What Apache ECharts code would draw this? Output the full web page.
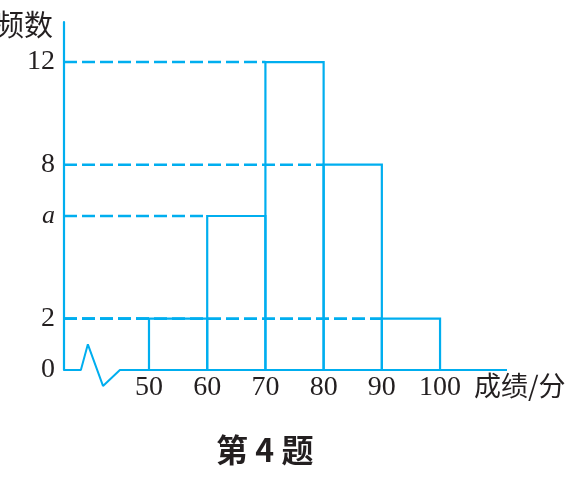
<!DOCTYPE html>
<html><head><meta charset="utf-8">
<script src="https://cdn.jsdelivr.net/npm/echarts@6/dist/echarts.min.js"></script>
<style>html,body{margin:0;padding:0;background:#fff;}#c{width:572px;height:497px;}</style>
</head><body><div id="c"></div>
<script>
// Data
var binStarts = [50, 60, 70, 80, 90];
var binEnds = [60, 70, 80, 90, 100];
var freqs = [2, 6, 12, 8, 2];           // 6 is the unknown "a"
var xTickValues = [50, 60, 70, 80, 90, 100];
var yTickValues = [0, 2, 6, 8, 12];
var yTickLabels = ['0', '2', 'a', '8', '12'];
// axis break zigzag (decoration of the broken x axis)
var breakX = [35.4, 38.3, 39.5, 42.1, 45.0, 111.5];
var breakY = [0, 0, 1.0, -0.62, 0, 0];

var X_MIN = 35.4, X_MAX = 111.5, Y_MAX = 13.56;
var BLUE = '#00aeef';
var TXT = '#231f20';

var bins = binStarts.map(function (s, i) { return [s, binEnds[i], freqs[i]]; });
var baseline = breakX.map(function (x, i) { return [x, breakY[i]]; });

var chart = echarts.init(document.getElementById('c'));
chart.setOption({
  backgroundColor: '#fff',
  animation: false,
  grid: { left: 64, right: 65, top: 22, bottom: 127, containLabel: false },
  xAxis: {
    type: 'value', min: X_MIN, max: X_MAX,
    axisLine: { show: false }, axisTick: { show: false }, splitLine: { show: false },
    axisLabel: {
      customValues: xTickValues, margin: 4,
      fontFamily: 'Liberation Serif', fontSize: 28, color: TXT
    }
  },
  yAxis: {
    type: 'value', min: 0, max: Y_MAX,
    axisLine: { show: true, lineStyle: { color: BLUE, width: 2.2 } },
    axisTick: { show: false }, splitLine: { show: false },
    axisLabel: {
      customValues: yTickValues, margin: 9,
      fontFamily: 'Liberation Serif', fontSize: 28, color: TXT,
      formatter: function (v) {
        var i = yTickValues.indexOf(v);
        var t = i >= 0 ? yTickLabels[i] : '';
        return t === 'a' ? '{it|a}' : t;
      },
      rich: { it: { fontFamily: 'Liberation Serif', fontStyle: 'italic', fontSize: 26, color: TXT } }
    }
  },
  series: [
    {
      type: 'line', data: baseline, clip: false, symbol: 'none', silent: true,
      lineStyle: { color: BLUE, width: 2 }, z: 3
    },
    {
      type: 'custom', data: bins, clip: false, z: 4,
      renderItem: function (params, api) {
        var s = api.value(0), e = api.value(1), f = api.value(2);
        var p0 = api.coord([s, f]);
        var p1 = api.coord([e, 0]);
        var ax = api.coord([X_MIN, f]);
        return {
          type: 'group',
          children: [
            {
              type: 'rect',
              shape: { x: p0[0], y: p0[1], width: p1[0] - p0[0], height: p1[1] - p0[1] },
              style: { fill: 'none', stroke: BLUE, lineWidth: 2.2 }
            },
            {
              type: 'line',
              shape: { x1: ax[0], y1: ax[1], x2: p0[0], y2: p0[1] },
              style: { stroke: BLUE, lineWidth: 2.6, lineDash: [13, 5] }
            }
          ]
        };
      }
    }
  ],
  graphic: [
    { type: 'text', left: -5, top: 10,
      style: { text: '频数', font: '29px "Noto Sans CJK SC"', fill: TXT } },
    { type: 'text', left: 474, top: 372,
      style: { text: '成绩/分', font: '27px "Noto Sans CJK SC"', fill: TXT } },
    { type: 'text', left: 216, top: 434,
      style: { text: '第 4 题', font: 'bold 32px "Noto Sans CJK SC"', fill: TXT } }
  ]
});
</script>
</body></html>
